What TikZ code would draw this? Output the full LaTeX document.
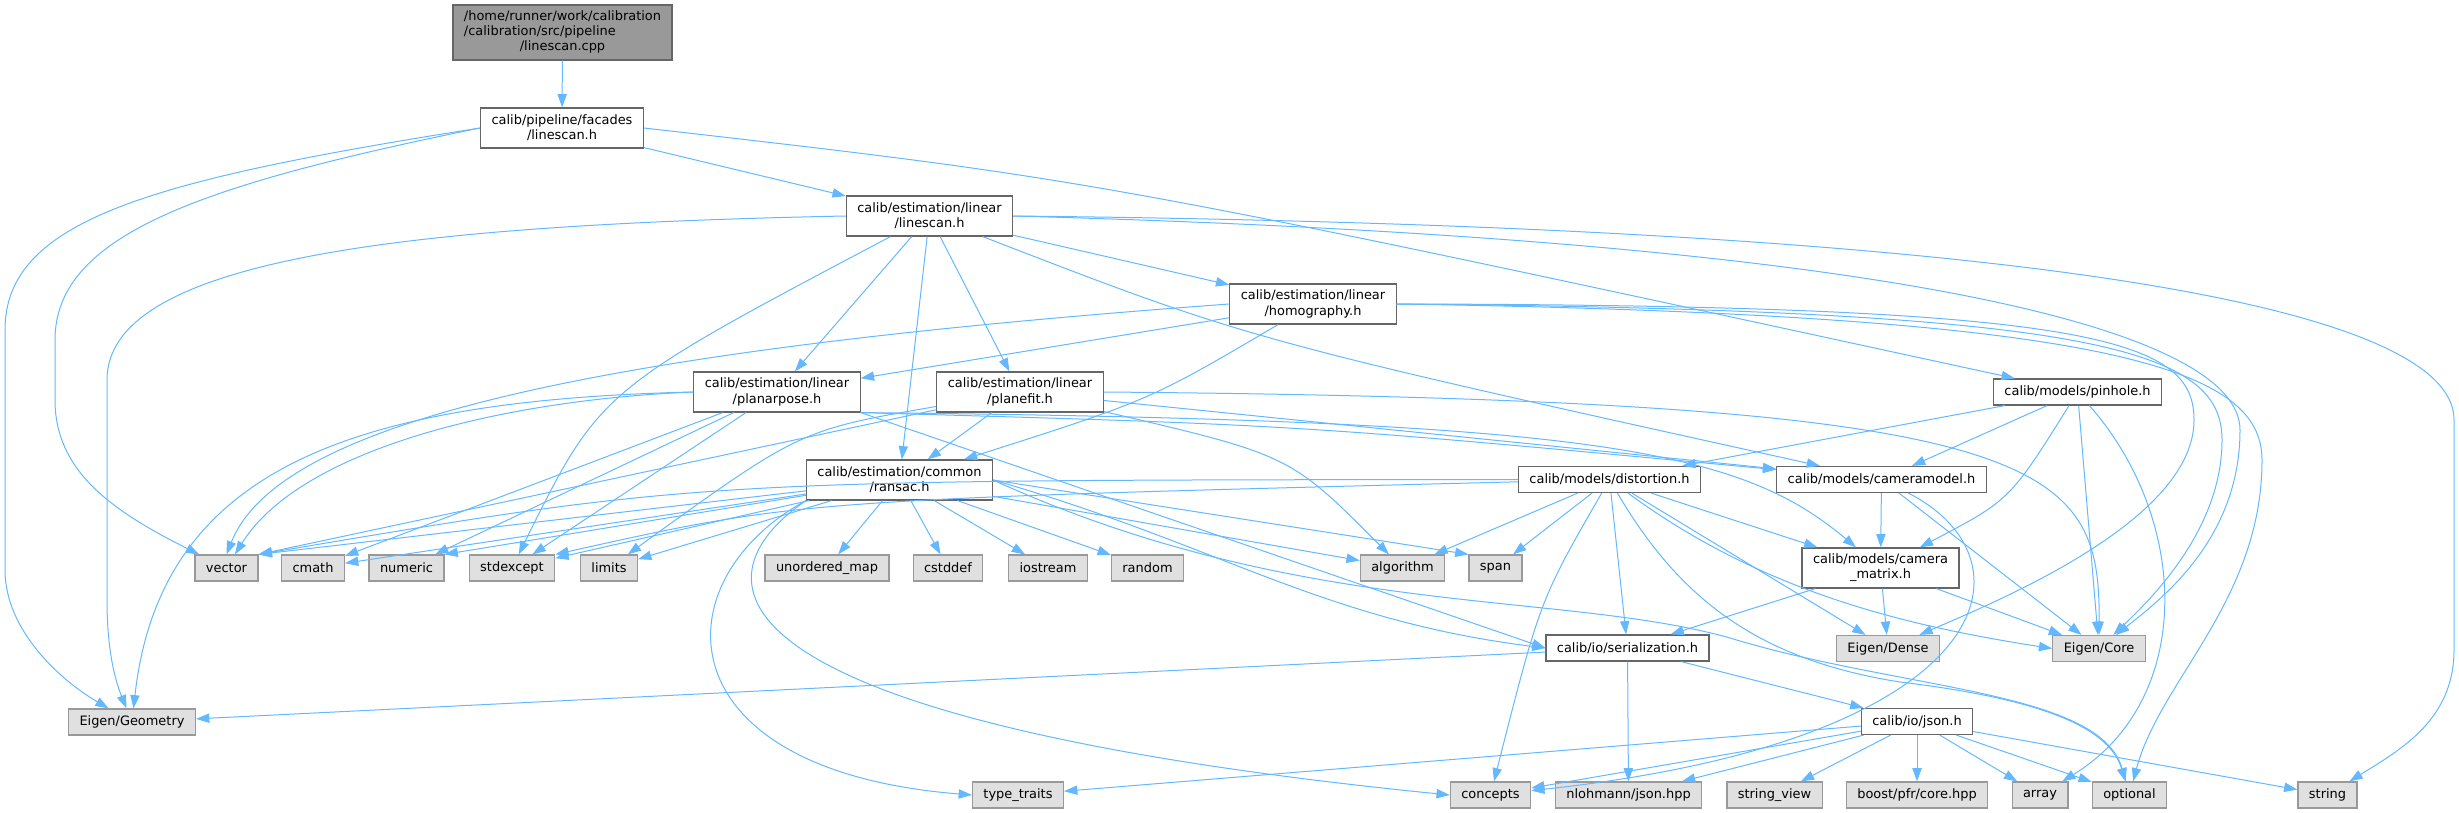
\documentclass[tikz,border=0pt]{standalone}
\usepackage{fontspec}
\setmainfont{DejaVu Sans}
\usepackage{tikz}
\usetikzlibrary{arrows.meta}
\definecolor{depblue}{HTML}{63B8FF}
\definecolor{hdrline}{HTML}{666666}
\definecolor{sysline}{HTML}{999999}
\definecolor{sysfill}{HTML}{E0E0E0}
\definecolor{srcfill}{HTML}{999999}

\begin{document}
\begin{tikzpicture}[x=0.75pt, y=-0.75pt, font=\fontsize{9.7}{11.4}\selectfont]
                \tikzstyle{hdr}=[rectangle, draw=hdrline, fill=white, line width=0.9pt, align=center, inner xsep=8.2pt, inner ysep=1pt, minimum height=19.5pt]
                \tikzstyle{two}=[minimum height=30pt]
                \tikzstyle{sys}=[hdr, draw=sysline, fill=sysfill]
                \tikzstyle{src}=[hdr, fill=srcfill, minimum height=41.25pt]
                \tikzstyle{dep}=[draw=depblue, line width=0.75pt, -{Triangle[length=10pt,width=7pt]}]

                \useasboundingbox (0,0) rectangle (2459,813);

                % project headers
                \node[src] (root) at (562.5,32.5) {\begin{tabular}{@{}l@{}}/home/runner/work/calibration\\/calibration/src/pipeline\\\multicolumn{1}{@{}c@{}}{/linescan.cpp}\end{tabular}};
                \node[hdr,two] (facades) at (562,128) {calib/pipeline/facades\\/linescan.h};
                \node[hdr,two] (estlin) at (929.5,216) {calib/estimation/linear\\/linescan.h};
                \node[hdr,two] (homog) at (1313,304) {calib/estimation/linear\\/homography.h};
                \node[hdr,two] (ppose) at (777,392) {calib/estimation/linear\\/planarpose.h};
                \node[hdr,two] (pfit) at (1020,392) {calib/estimation/linear\\/planefit.h};
                \node[hdr] (pinhole) at (2077.5,392) {calib/models/pinhole.h};
                \node[hdr,two] (ransac) at (899.5,480) {calib/estimation/common\\/ransac.h};
                \node[hdr] (distort) at (1609.5,479.5) {calib/models/distortion.h};
                \node[hdr] (cammodel) at (1881.5,479.5) {calib/models/cameramodel.h};
                \node[hdr,two] (cammat) at (1880.5,568) {calib/models/camera\\\_matrix.h};
                \node[hdr] (serial) at (1627.5,648) {calib/io/serialization.h};
                \node[hdr] (json) at (1917,721.5) {calib/io/json.h};

                % system and library headers
                \node[sys] (vector) at (226.5,568) {vector};
                \node[sys] (cmath) at (313,568) {cmath};
                \node[sys] (numeric) at (406.5,568) {numeric};
                \node[sys] (stdexcept) at (512,568) {stdexcept};
                \node[sys] (limits) at (609,568) {limits};
                \node[sys] (umap) at (827,568) {unordered\_map};
                \node[sys] (cstddef) at (948,568) {cstddef};
                \node[sys] (iostream) at (1048,568) {iostream};
                \node[sys] (random) at (1147.5,568) {random};
                \node[sys] (algorithm) at (1402.5,568) {algorithm};
                \node[sys] (span) at (1495.5,568) {span};
                \node[sys] (geom) at (132,722) {Eigen/Geometry};
                \node[sys] (dense) at (1888,648.5) {Eigen/Dense};
                \node[sys] (core) at (2099,648.5) {Eigen/Core};
                \node[sys] (ttraits) at (1018,795) {type\_traits};
                \node[sys] (concepts) at (1490.5,795) {concepts};
                \node[sys] (nlohmann) at (1628.5,795) {nlohmann/json.hpp};
                \node[sys] (strview) at (1774.5,795) {string\_view};
                \node[sys] (boostpfr) at (1917,795) {boost/pfr/core.hpp};
                \node[sys] (array) at (2040,795) {array};
                \node[sys] (optional) at (2129.5,795) {optional};
                \node[sys] (string) at (2327.5,795) {string};

                \foreach \source/ \dest in {root/facades, facades/estlin,
                    estlin/ppose, estlin/ransac, estlin/pfit, estlin/homog, homog/ppose,
                    ppose/cmath, ppose/numeric, ppose/stdexcept, ppose.south east/serial.west,
                    pfit/vector.north east, pfit/ransac, pfit/cammodel,
                    ransac/vector.north east, ransac/cmath, ransac/numeric.north east, ransac/stdexcept,
                    ransac/limits, ransac/umap, ransac/cstddef, ransac/iostream, ransac/random,
                    ransac/algorithm, ransac.east/span.north west,
                    distort/algorithm, distort/span, distort/serial, distort/cammat, distort/dense,
                    pinhole/distort, pinhole/cammodel, pinhole/core,
                    cammodel/cammat, cammodel/core, cammat/serial, cammat/dense, cammat/core,
                    serial/geom, serial/nlohmann, serial/json,
                    json/ttraits, json/concepts, json/nlohmann, json/strview, json/boostpfr,
                    json/array, json/optional, json/string}
                \path[dep] (\source) -- (\dest);

                % routed round the other boxes
                \path[dep] (facades.west) .. controls (150,180) and (5,220) .. (5,330) -- (5,570) .. controls (5,630) and (60,680) .. (geom);
                \path[dep] (facades.west) .. controls (200,185) and (55,235) .. (55,340) -- (55,400) .. controls (55,470) and (110,510) .. (vector);
                \path[dep] (facades.east) .. controls (1100,180) .. (pinhole);
                \path[dep] (estlin.west) .. controls (400,225) and (107,260) .. (107,380) -- (107,600) .. controls (107,650) and (115,680) .. (geom);
                \path[dep] (estlin) .. controls (600,390) .. (stdexcept);
                \path[dep] (estlin) .. controls (1250,340) .. (cammodel);
                \path[dep] (estlin.east) .. controls (1900,240) and (2240,330) .. (2240,430) .. controls (2240,540) and (2160,600) .. (core);
                \path[dep] (estlin.east) .. controls (1900,225) and (2454,290) .. (2454,420) -- (2454,650) .. controls (2454,720) and (2400,750) .. (string);
                \path[dep] (homog.west) .. controls (600,350) and (280,420) .. (vector.north);
                \path[dep] (homog) .. controls (1150,400) .. (ransac);
                \path[dep] (homog.east) .. controls (2100,305) and (2194,340) .. (2194,420) .. controls (2194,520) and (2000,600) .. (dense);
                \path[dep] (homog.east) .. controls (2100,310) and (2222,350) .. (2222,440) .. controls (2222,530) and (2150,600) .. (core);
                \path[dep] (homog.east) .. controls (2120,315) and (2262,370) .. (2262,460) .. controls (2262,600) and (2160,680) .. (optional);
                \path[dep] (ppose.west) .. controls (500,400) and (300,450) .. (vector);
                \path[dep] (ppose.west) .. controls (350,400) and (160,470) .. (geom);
                \path[dep] (ppose.south east) .. controls (1300,425) .. (cammodel);
                \path[dep] (ppose.south east) .. controls (1600,420) and (1740,450) .. (cammat);
                \path[dep] (pfit) .. controls (800,430) .. (limits);
                \path[dep] (pfit) .. controls (1290,455) .. (algorithm);
                \path[dep] (pfit.east) .. controls (2050,400) and (2100,460) .. (core);
                \path[dep] (ransac.south west) .. controls (660,580) and (660,770) .. (ttraits.west);
                \path[dep] (ransac.south west) .. controls (690,580) and (700,720) .. (concepts.west);
                \path[dep] (ransac.east) .. controls (1220,545) and (1320,620) .. (serial.west);
                \path[dep] (ransac.east) .. controls (1300,620) and (1560,590) .. (1730,638) .. controls (1900,690) and (2100,690) .. (optional);
                \path[dep] (distort) .. controls (700,480) .. (vector.north east);
                \path[dep] (distort) .. controls (800,500) .. (stdexcept.north east);
                \path[dep] (distort) .. controls (1540,600) .. (concepts);
                \path[dep] (distort) .. controls (1760,590) and (1900,625) .. (core.west);
                \path[dep] (distort) .. controls (1680,600) and (1760,660) .. (1900,682) .. controls (2050,700) and (2110,730) .. (optional);
                \path[dep] (pinhole) .. controls (2010,500) .. (cammat);
                \path[dep] (pinhole) .. controls (2190,520) and (2195,700) .. (array);
                \path[dep] (cammodel) .. controls (2040,560) and (2000,740) .. (concepts);
            \end{tikzpicture}
\end{document}
